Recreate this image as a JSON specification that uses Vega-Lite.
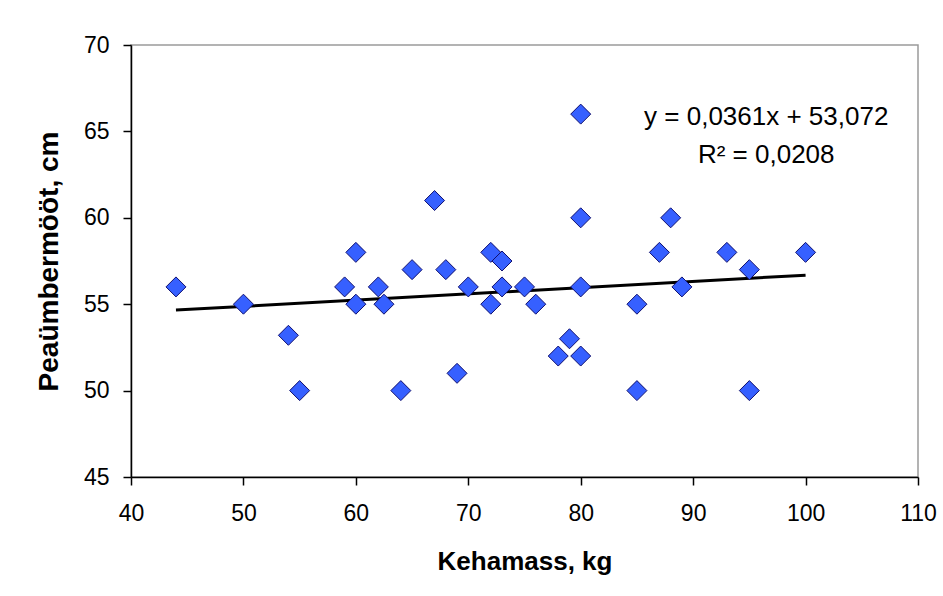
{
  "$schema": "https://vega.github.io/schema/vega-lite/v6.json",
  "width": 787,
  "height": 432,
  "autosize": "none",
  "padding": {"left": 131, "top": 45, "right": 25, "bottom": 119},
  "background": "white",
  "config": {
    "view": {"stroke": "#9a9a9a", "strokeWidth": 1.5},
    "font": "Liberation Sans, Arial, sans-serif"
  },
  "datasets": {
    "points": [
      {"mass": 44, "girth": 56},
      {"mass": 50, "girth": 55},
      {"mass": 54, "girth": 53.2},
      {"mass": 55, "girth": 50},
      {"mass": 59, "girth": 56},
      {"mass": 60, "girth": 58},
      {"mass": 60, "girth": 55},
      {"mass": 62, "girth": 56},
      {"mass": 62.5, "girth": 55},
      {"mass": 64, "girth": 50},
      {"mass": 65, "girth": 57},
      {"mass": 67, "girth": 61},
      {"mass": 68, "girth": 57},
      {"mass": 69, "girth": 51},
      {"mass": 70, "girth": 56},
      {"mass": 72, "girth": 58},
      {"mass": 73, "girth": 57.5},
      {"mass": 72, "girth": 55},
      {"mass": 73, "girth": 56},
      {"mass": 75, "girth": 56},
      {"mass": 76, "girth": 55},
      {"mass": 78, "girth": 52},
      {"mass": 79, "girth": 53},
      {"mass": 80, "girth": 52},
      {"mass": 80, "girth": 56},
      {"mass": 80, "girth": 60},
      {"mass": 80, "girth": 66},
      {"mass": 85, "girth": 55},
      {"mass": 85, "girth": 50},
      {"mass": 87, "girth": 58},
      {"mass": 88, "girth": 60},
      {"mass": 89, "girth": 56},
      {"mass": 93, "girth": 58},
      {"mass": 95, "girth": 57},
      {"mass": 95, "girth": 50},
      {"mass": 100, "girth": 58}
    ],
    "trend": [
      {"mass": 44, "girth": 54.66},
      {"mass": 100, "girth": 56.68}
    ],
    "labels": [
      {"mass": 96.5, "girth": 65.83, "text": "y = 0,0361x + 53,072"},
      {"mass": 96.5, "girth": 63.63, "text": "R² = 0,0208"}
    ]
  },
  "encoding": {
    "x": {
      "field": "mass",
      "type": "quantitative",
      "scale": {"domain": [40, 110], "nice": false, "zero": false},
      "axis": {
        "title": "Kehamass, kg",
        "values": [40, 50, 60, 70, 80, 90, 100, 110],
        "grid": false,
        "domainColor": "black",
        "domainWidth": 1.5,
        "tickColor": "black",
        "tickWidth": 1.5,
        "tickSize": 8,
        "labelFontSize": 23,
        "labelColor": "black",
        "labelPadding": 17,
        "labelFlush": false,
        "titleFontSize": 26,
        "titleFontWeight": "bold",
        "titleColor": "black",
        "titlePadding": 23
      }
    },
    "y": {
      "field": "girth",
      "type": "quantitative",
      "scale": {"domain": [45, 70], "nice": false, "zero": false},
      "axis": {
        "title": "Peaümbermööt, cm",
        "values": [45, 50, 55, 60, 65, 70],
        "grid": false,
        "domainColor": "black",
        "domainWidth": 1.5,
        "tickColor": "black",
        "tickWidth": 1.5,
        "tickSize": 8,
        "labelFontSize": 23,
        "labelColor": "black",
        "labelPadding": 14,
        "labelFlush": false,
        "titleFontSize": 28,
        "titleFontWeight": "bold",
        "titleColor": "black",
        "titlePadding": 20
      }
    }
  },
  "layer": [
    {
      "data": {"name": "trend"},
      "mark": {"type": "line", "color": "black", "strokeWidth": 3}
    },
    {
      "data": {"name": "points"},
      "mark": {"type": "point", "shape": "diamond", "filled": true, "size": 400, "fill": "#3660FF", "stroke": "#101070", "strokeWidth": 1, "opacity": 1}
    },
    {
      "data": {"name": "labels"},
      "mark": {"type": "text", "fontSize": 26, "color": "black", "align": "center", "baseline": "middle"},
      "encoding": {"text": {"field": "text"}}
    }
  ]
}
